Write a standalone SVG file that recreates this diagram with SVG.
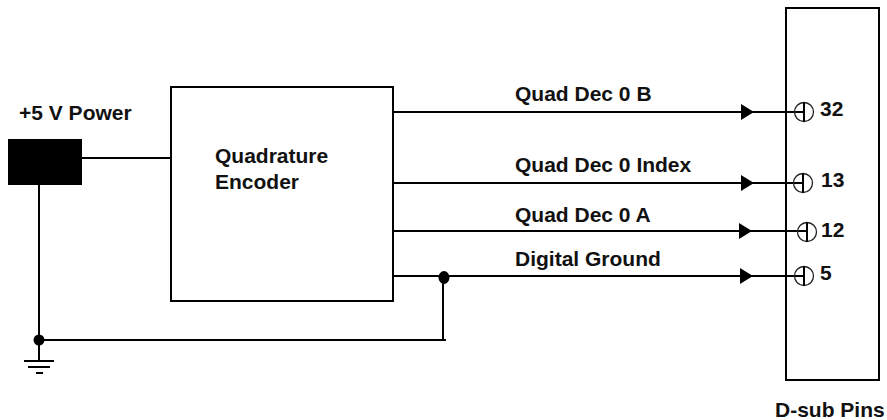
<svg xmlns="http://www.w3.org/2000/svg" width="887" height="420" viewBox="0 0 887 420">
<defs>
<style>
text{font-family:"Liberation Sans",Arial,sans-serif;font-weight:bold;font-size:21px;fill:#111}
.b{fill:#fff;stroke:#000;stroke-width:2}
.w{fill:none;stroke:#000;stroke-width:2}
.p{fill:none;stroke:#222;stroke-width:1.3}
</style>
<marker id="a" markerUnits="userSpaceOnUse" markerWidth="14" markerHeight="16" refX="13" refY="8" orient="auto"><path d="M0 0L13 8L0 16Z" fill="#000"/></marker>
</defs>
<rect width="887" height="420" fill="#fff"/>
<g id="dsub"><rect class="b" x="786" y="8" width="93" height="372"/><text x="775" y="417">D-sub Pins</text></g>
<g id="encoder"><rect class="b" x="171" y="87" width="222" height="214"/><text x="215" y="163">Quadrature</text><text x="215" y="189">Encoder</text></g>
<g id="power"><text x="19" y="120">+5 V Power</text><rect x="8" y="139" width="74" height="46" fill="#000"/></g>
<g id="connectors">
<path class="w" d="M82 158H171M39 185V340M39 340H446M443 340V278M393 276H446"/>
<path class="w" d="M393 112H754" marker-end="url(#a)"/><path class="w" d="M754 112H804"/>
<path class="w" d="M393 183H754" marker-end="url(#a)"/><path class="w" d="M754 183H803"/>
<path class="w" d="M393 231H752" marker-end="url(#a)"/><path class="w" d="M752 231H807"/>
<path class="w" d="M393 276H753" marker-end="url(#a)"/><path class="w" d="M753 276H804"/>
<circle cx="39" cy="340" r="5.5" fill="#000"/><ellipse cx="444" cy="277.500" rx="5.500" ry="6.500" fill="#000"/>
<path class="w" d="M39 340V362M24 361H54M28 367H50M36 373H43"/>
</g>
<g id="labels"><text x="515" y="101">Quad Dec 0 B</text><text x="515" y="172">Quad Dec 0 Index</text><text x="515" y="222">Quad Dec 0 A</text><text x="515" y="266">Digital Ground</text></g>
<g id="pin32"><circle class="p" cx="804" cy="112" r="9.500"/><path class="w" d="M804 102.500V121.500"/><text x="820" y="116">32</text></g>
<g id="pin13"><circle class="p" cx="803" cy="183" r="9.500"/><path class="w" d="M803 173.500V192.500"/><text x="821" y="187">13</text></g>
<g id="pin12"><circle class="p" cx="807" cy="232" r="9.500"/><path class="w" d="M807 222.500V241.500"/><text x="821" y="237">12</text></g>
<g id="pin5"><circle class="p" cx="804" cy="276" r="9.500"/><path class="w" d="M804 266.500V285.500"/><text x="820" y="280">5</text></g>
</svg>
